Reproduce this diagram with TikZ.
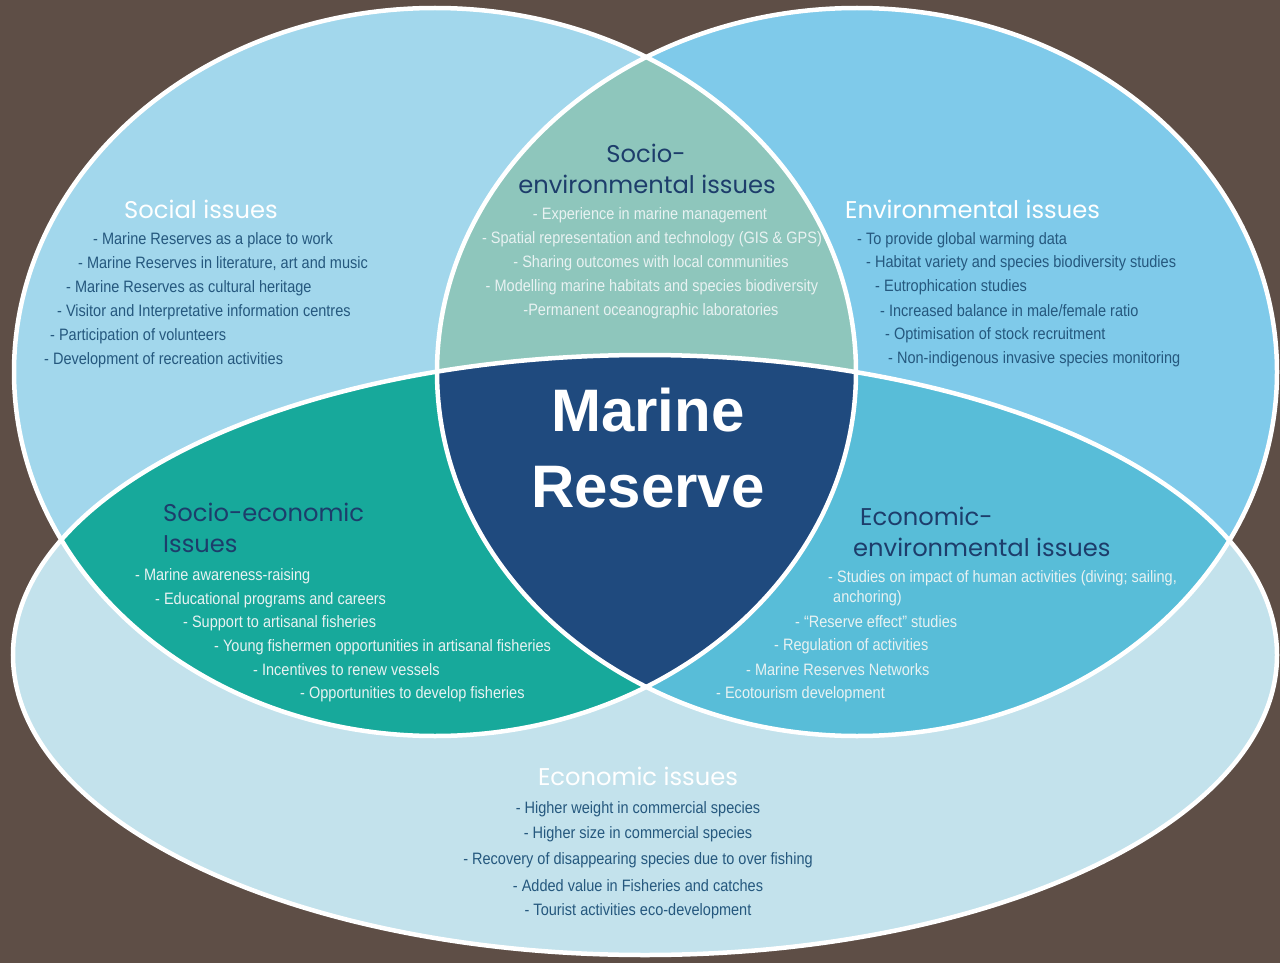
\documentclass[tikz,border=0pt]{standalone}
\usepackage{fontspec}
\setmainfont{Liberation Sans}
\newfontfamily\bodyfont[FakeStretch=0.88]{Liberation Sans}
\newfontfamily\headfont{Poppins}
\newfontfamily\titlefont{Liberation Sans}
\definecolor{bg}{HTML}{5E4E46}
\definecolor{social}{HTML}{A2D7EC}
\definecolor{env}{HTML}{7FCAEA}
\definecolor{econ}{HTML}{C3E2EC}
\definecolor{socenv}{HTML}{8EC6BC}
\definecolor{soceco}{HTML}{17A99B}
\definecolor{ecoenv}{HTML}{58BDD8}
\definecolor{core}{HTML}{1F4A7E}
\definecolor{navy}{HTML}{1D3D6B}
\definecolor{bodyblue}{HTML}{25587E}
\definecolor{lighttext}{HTML}{E8F2F2}
\tikzset{
  item/.style={inner sep=0pt, anchor=west, text=bodyblue, font=\bodyfont\fontsize{16.5}{19}\selectfont},
  witem/.style={item, text=lighttext},
  head/.style={inner sep=0pt, anchor=west, text=navy, font=\headfont\fontsize{24.2}{30}\selectfont},
  whead/.style={head, text=white},
  rim/.style={draw=white, line width=4.5pt},
  title/.style={inner sep=0pt, text=white, font=\titlefont\bfseries\fontsize{60}{66}\selectfont},
}
\begin{document}
\begin{tikzpicture}[x=1pt, y=-1pt]
\useasboundingbox (0,0) rectangle (1280,963);
\clip (0,0) rectangle (1280,963);
\fill[bg] (0,0) rectangle (1280,963);
% single-set regions
\fill[social] (435,372) ellipse [x radius=421pt, y radius=364pt];
\fill[env] (857,372) ellipse [x radius=420pt, y radius=364pt];
\fill[econ] (645,655) ellipse [x radius=632pt, y radius=300pt];
% left & right
\begin{scope}
  \clip (435,372) ellipse [x radius=421pt, y radius=364pt];
  \fill[socenv] (857,372) ellipse [x radius=420pt, y radius=364pt];
\end{scope}
% left & bottom
\begin{scope}
  \clip (435,372) ellipse [x radius=421pt, y radius=364pt];
  \fill[soceco] (645,655) ellipse [x radius=632pt, y radius=300pt];
\end{scope}
% right & bottom
\begin{scope}
  \clip (857,372) ellipse [x radius=420pt, y radius=364pt];
  \fill[ecoenv] (645,655) ellipse [x radius=632pt, y radius=300pt];
\end{scope}
% all three
\begin{scope}
  \clip (435,372) ellipse [x radius=421pt, y radius=364pt];
  \clip (857,372) ellipse [x radius=420pt, y radius=364pt];
  \fill[core] (645,655) ellipse [x radius=632pt, y radius=300pt];
\end{scope}
% outlines
\draw[rim] (435,372) ellipse [x radius=421pt, y radius=364pt];
\draw[rim] (857,372) ellipse [x radius=420pt, y radius=364pt];
\draw[rim] (645,655) ellipse [x radius=632pt, y radius=300pt];

% centre
\node (mr1) [title] at (648,410) {Marine};
\node (mr2) [title] at (648,487) {Reserve};

% Social issues
\node (sh) [whead] at (124,209) {Social issues};
\node (s1) [item] at (93,240) {- Marine Reserves as a place to work};
\node (s2) [item] at (78,264) {- Marine Reserves in literature, art and music};
\node (s3) [item] at (66,288) {- Marine Reserves as cultural heritage};
\node (s4) [item] at (57,312) {- Visitor and Interpretative information centres};
\node (s5) [item] at (50,336) {- Participation of volunteers};
\node (s6) [item] at (44,360) {- Development of recreation activities};

% Socio-environmental
\node (seh1) [head, anchor=center] at (646,153) {Socio-};
\node (seh2) [head, anchor=center] at (647,184) {environmental issues};
\node (se1) [witem, anchor=center] at (650,215) {- Experience in marine management};
\node (se2) [witem, anchor=center] at (652,239) {- Spatial representation and technology (GIS \& GPS)};
\node (se3) [witem, anchor=center] at (651,263) {- Sharing outcomes with local communities};
\node (se4) [witem, anchor=center] at (652,287) {- Modelling marine habitats and species biodiversity};
\node (se5) [witem, anchor=center] at (651,311) {-Permanent oceanographic laboratories};

% Environmental issues
\node (eh) [whead] at (845,209) {Environmental issues};
\node (e1) [item] at (857,240) {- To provide global warming data};
\node (e2) [item] at (866,263) {- Habitat variety and species biodiversity studies};
\node (e3) [item] at (875,287) {- Eutrophication studies};
\node (e4) [item] at (880,311) {- Increased balance in male/female ratio};
\node (e5) [item] at (885,335) {- Optimisation of stock recruitment};
\node (e6) [item] at (888,359) {- Non-indigenous invasive species monitoring};

% Socio-economic
\node (soh1) [head] at (163,512) {Socio-economic};
\node (soh2) [head] at (163,544) {Issues};
\node (so1) [witem] at (135,576) {- Marine awareness-raising};
\node (so2) [witem] at (155,600) {- Educational programs and careers};
\node (so3) [witem] at (183,623) {- Support to artisanal fisheries};
\node (so4) [witem] at (214,647) {- Young fishermen opportunities in artisanal fisheries};
\node (so5) [witem] at (253,670) {- Incentives to renew vessels};
\node (so6) [witem] at (300,694) {- Opportunities to develop fisheries};

% Economic-environmental
\node (eeh1) [head] at (860,516) {Economic-};
\node (eeh2) [head] at (853,547) {environmental issues};
\node (ee1) [witem] at (828,578) {- Studies on impact of human activities (diving; sailing,};
\node (ee1b) [witem] at (833,598) {anchoring)};
\node (ee2) [witem] at (795,622) {- “Reserve effect” studies};
\node (ee3) [witem] at (774,646) {- Regulation of activities};
\node (ee4) [witem] at (746,670) {- Marine Reserves Networks};
\node (ee5) [witem] at (716,694) {- Ecotourism development};

% Economic issues
\node (ch) [whead, anchor=center] at (638,776) {Economic issues};
\node (c1) [item, anchor=center] at (638,809) {- Higher weight in commercial species};
\node (c2) [item, anchor=center] at (638,834) {- Higher size in commercial species};
\node (c3) [item, anchor=center] at (638,860) {- Recovery of disappearing species due to over fishing};
\node (c4) [item, anchor=center] at (638,886) {- Added value in Fisheries and catches};
\node (c5) [item, anchor=center] at (638,911) {- Tourist activities eco-development};
\end{tikzpicture}
\end{document}
